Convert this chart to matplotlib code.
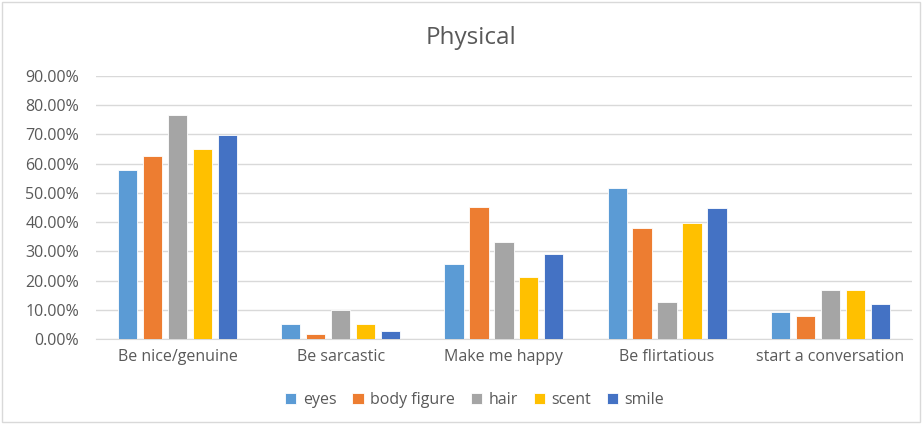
import numpy as np
import matplotlib.pyplot as plt
from matplotlib.ticker import PercentFormatter

categories = ["Be nice/genuine", "Be sarcastic", "Make me happy", "Be flirtatious", "start a conversation"]
eyes = [57.7, 5.1, 25.6, 51.6, 9.4]
body_figure = [62.5, 1.7, 45.3, 37.9, 8.0]
hair = [76.8, 9.9, 33.1, 12.8, 16.8]
scent = [64.9, 5.1, 21.2, 39.8, 16.8]
smile = [69.9, 2.6, 29.1, 44.8, 11.9]

series = [("eyes", eyes, "#5B9BD5"),
          ("body figure", body_figure, "#ED7D31"),
          ("hair", hair, "#A5A5A5"),
          ("scent", scent, "#FFC000"),
          ("smile", smile, "#4472C4")]

plt.rcParams['font.family'] = ['Open Sans', 'DejaVu Sans']

fig = plt.figure(figsize=(9.22, 4.24), dpi=100)
ax = fig.add_axes([0.104, 0.2005, 0.885, 0.6203])

x = np.arange(len(categories))
slot = 0.153
width = 0.118
for i, (name, vals, col) in enumerate(series):
    ax.bar(x + (i - 2) * slot, np.array(vals) / 100, width, color=col,
           edgecolor="white", linewidth=0.6, label=name, zorder=3)

ax.set_xlim(-0.5, len(categories) - 0.5)
ax.set_ylim(0, 0.9)
ax.set_yticks(np.arange(0, 0.91, 0.1))
ax.yaxis.set_major_formatter(PercentFormatter(1.0, decimals=2))
ax.set_xticks(x)
ax.set_xticklabels(categories)
ax.grid(axis="y", color="#D9D9D9", linewidth=1, zorder=0)
for s in ["top", "right", "left"]:
    ax.spines[s].set_visible(False)
ax.spines["bottom"].set_color("#D9D9D9")
ax.tick_params(axis="both", length=0, colors="#595959")
ax.tick_params(axis="x", pad=7, labelsize=11.5)
ax.tick_params(axis="y", pad=12, labelsize=11.5)

fig.text(0.511, 0.91, "Physical", ha="center", va="center", fontsize=17.5, color="#595959")
fig.legend(loc="center", bbox_to_anchor=(0.515, 0.057), ncol=5, frameon=False,
           fontsize=11.5, labelcolor="#595959", handlelength=0.7, handleheight=0.7,
           handletextpad=0.4, columnspacing=1.0)

border = plt.Rectangle((0.002, 0.005), 0.996, 0.99, transform=fig.transFigure,
                       fill=False, edgecolor="#D9D9D9", linewidth=1)
fig.patches.append(border)

fig.savefig("out.png", dpi=100)
